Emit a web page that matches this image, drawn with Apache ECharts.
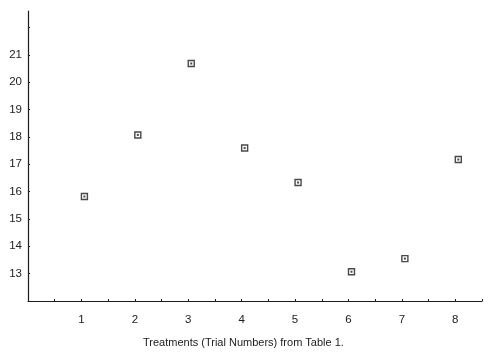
<!DOCTYPE html>
<html>
<head>
<meta charset="utf-8">
<script src="https://cdn.jsdelivr.net/npm/echarts@6/dist/echarts.min.js"></script>
<style>
  html, body { margin: 0; padding: 0; background: #fff; }
  #chart { width: 488px; height: 352px; }
</style>
</head>
<body>
<div id="chart"></div>
<script>
// treatments (trial numbers) and mean values
const trials = [1, 2, 3, 4, 5, 6, 7, 8]
const means = [15.82, 18.07, 20.68, 17.59, 16.33, 13.07, 13.55, 17.17]
const yTickLabels = [13, 14, 15, 16, 17, 18, 19, 20, 21]
const xTickLabels = [1, 2, 3, 4, 5, 6, 7, 8]
const xTitle = 'Treatments (Trial Numbers) from Table 1.'

const points = trials.map((t, i) => [t, means[i]])
const ink = '#1c1c1c'

const chart = echarts.init(document.getElementById('chart'))
chart.setOption({
  animation: false,
  backgroundColor: '#fff',
  textStyle: { fontFamily: 'Liberation Sans, Arial, sans-serif' },
  grid: { left: 28, right: 6, top: 11, bottom: 51 },
  title: {
    text: xTitle,
    left: 138,
    top: 332,
    textStyle: { fontSize: 11, fontWeight: 'normal', color: ink },
  },
  xAxis: {
    type: 'value',
    min: 0,
    max: 8.5,
    interval: 0.5,
    axisLine: { lineStyle: { color: ink, width: 1.2 } },
    axisTick: { inside: true, length: 2, lineStyle: { color: ink } },
    splitLine: { show: false },
    axisLabel: {
      color: ink,
      fontSize: 11.5,
      margin: 13,
      formatter: v => (xTickLabels.includes(v) ? String(v) : ''),
    },
  },
  yAxis: {
    type: 'value',
    min: 12,
    max: 22.6,
    interval: 1,
    axisLine: { show: true, lineStyle: { color: ink, width: 1.2 } },
    axisTick: { inside: true, length: 2, lineStyle: { color: ink } },
    splitLine: { show: false },
    axisLabel: {
      color: ink,
      fontSize: 11.5,
      margin: 6,
      showMaxLabel: false,
      formatter: v => (yTickLabels.includes(v) ? String(v) : ''),
    },
  },
  series: [
    {
      type: 'scatter',
      data: points,
      symbol: 'rect',
      symbolSize: [6, 6],
      symbolOffset: [3, 0],
      itemStyle: { color: '#fff', borderColor: ink, borderWidth: 1.4 },
      silent: true,
    },
    {
      type: 'scatter',
      data: points,
      symbol: 'rect',
      symbolSize: [2, 2],
      symbolOffset: [3, 0],
      itemStyle: { color: ink },
      silent: true,
    },
  ],
})
</script>
</body>
</html>
